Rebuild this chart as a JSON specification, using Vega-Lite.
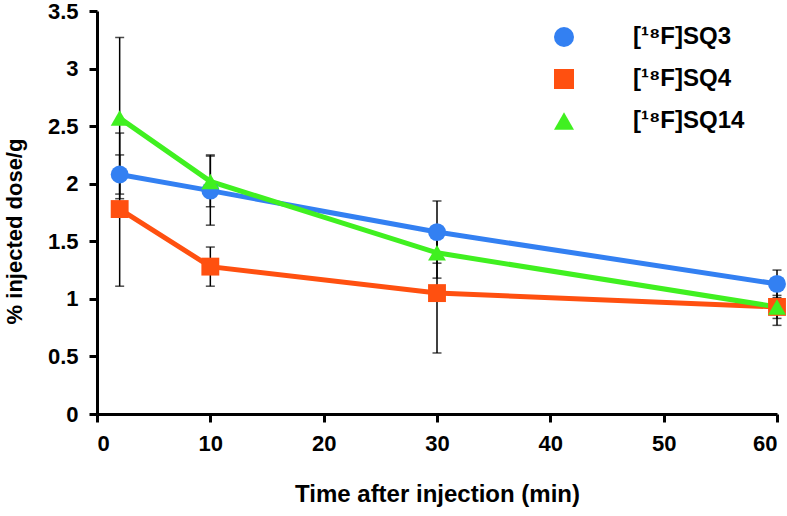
{
  "$schema": "https://vega.github.io/schema/vega-lite/v6.json",
  "autosize": "none",
  "width": 680,
  "height": 403,
  "padding": {"left": 97, "top": 11, "right": 10, "bottom": 102},
  "background": "white",
  "data": {
    "values": [
      {"series": "[¹⁸F]SQ3", "time": 2, "mean": 2.08, "lo": 1.91, "hi": 2.25},
      {"series": "[¹⁸F]SQ3", "time": 10, "mean": 1.94, "lo": 1.64, "hi": 2.24},
      {"series": "[¹⁸F]SQ3", "time": 30, "mean": 1.58, "lo": 1.31, "hi": 1.85},
      {"series": "[¹⁸F]SQ3", "time": 60, "mean": 1.13, "lo": 1.01, "hi": 1.25},
      {"series": "[¹⁸F]SQ4", "time": 2, "mean": 1.78, "lo": 1.11, "hi": 2.44},
      {"series": "[¹⁸F]SQ4", "time": 10, "mean": 1.28, "lo": 1.11, "hi": 1.45},
      {"series": "[¹⁸F]SQ4", "time": 30, "mean": 1.05, "lo": 0.53, "hi": 1.57},
      {"series": "[¹⁸F]SQ4", "time": 60, "mean": 0.93, "lo": 0.77, "hi": 1.09},
      {"series": "[¹⁸F]SQ14", "time": 2, "mean": 2.57, "lo": 1.87, "hi": 3.27},
      {"series": "[¹⁸F]SQ14", "time": 10, "mean": 2.02, "lo": 1.80, "hi": 2.25},
      {"series": "[¹⁸F]SQ14", "time": 30, "mean": 1.40, "lo": 1.18, "hi": 1.62},
      {"series": "[¹⁸F]SQ14", "time": 60, "mean": 0.93, "lo": 0.83, "hi": 1.03}
    ]
  },
  "config": {
    "view": {"stroke": null},
    "axis": {
      "grid": false,
      "domainColor": "black",
      "domainWidth": 3,
      "tickColor": "black",
      "tickWidth": 3,
      "tickSize": 8,
      "labelFont": "Liberation Sans",
      "labelFontWeight": "bold",
      "labelFontSize": 22,
      "labelColor": "black",
      "labelPadding": 11,
      "titleFont": "Liberation Sans",
      "titleFontWeight": "bold",
      "titleFontSize": 22,
      "titleColor": "black"
    },
    "legend": {
      "symbolSize": 400,
      "symbolStrokeWidth": 0,
      "orient": "none",
      "legendX": 455,
      "legendY": 14,
      "padding": 0,
      "rowPadding": 18,
      "labelFont": "Liberation Sans",
      "labelFontWeight": "bold",
      "labelFontSize": 24,
      "labelColor": "black",
      "labelOffset": 57,
      "title": null
    }
  },
  "encoding": {
    "x": {
      "field": "time",
      "type": "quantitative",
      "scale": {"domain": [0, 60], "nice": false},
      "axis": {
        "values": [0, 10, 20, 30, 40, 50, 60],
        "title": "Time after injection (min)",
        "titleFontSize": 24,
        "titleBaseline": "top",
        "titleY": 68
      }
    },
    "color": {
      "field": "series",
      "type": "nominal",
      "scale": {"domain": ["[¹⁸F]SQ3", "[¹⁸F]SQ4", "[¹⁸F]SQ14"], "range": ["#3380F2", "#FF5010", "#40F020"]},
      "legend": {
        "title": null,
        "orient": "none",
        "legendX": 455,
        "legendY": 14,
        "symbolType": "circle"
      }
    }
  },
  "layer": [
    {
      "mark": {
        "type": "errorbar",
        "ticks": {"size": 9, "thickness": 1.5, "color": "black"},
        "rule": {"strokeWidth": 1.5, "color": "black"},
        "color": "black"
      },
      "encoding": {
        "color": {"value": "black"},
        "y": {
          "field": "lo",
          "type": "quantitative",
          "scale": {"domain": [0, 3.5], "nice": false},
          "axis": {
            "values": [0, 0.5, 1, 1.5, 2, 2.5, 3, 3.5],
            "labelExpr": "'' + datum.value",
            "title": "% injected dose/g",
            "titleBaseline": "middle",
            "titleX": -83,
            "titleY": 220
          }
        },
        "y2": {"field": "hi"}
      }
    },
    {
      "mark": {"type": "line", "strokeWidth": 5},
      "encoding": {
        "y": {"field": "mean", "type": "quantitative"}
      }
    },
    {
      "mark": {"type": "point", "filled": true, "opacity": 1, "size": 320},
      "encoding": {
        "y": {"field": "mean", "type": "quantitative"},
        "shape": {
          "field": "series",
          "type": "nominal",
          "scale": {"domain": ["[¹⁸F]SQ3", "[¹⁸F]SQ4", "[¹⁸F]SQ14"], "range": ["circle", "square", "triangle-up"]},
          "legend": {
            "title": null,
            "orient": "none",
            "legendX": 455,
            "legendY": 14,
            "symbolType": "circle"
          }
        }
      }
    }
  ]
}
